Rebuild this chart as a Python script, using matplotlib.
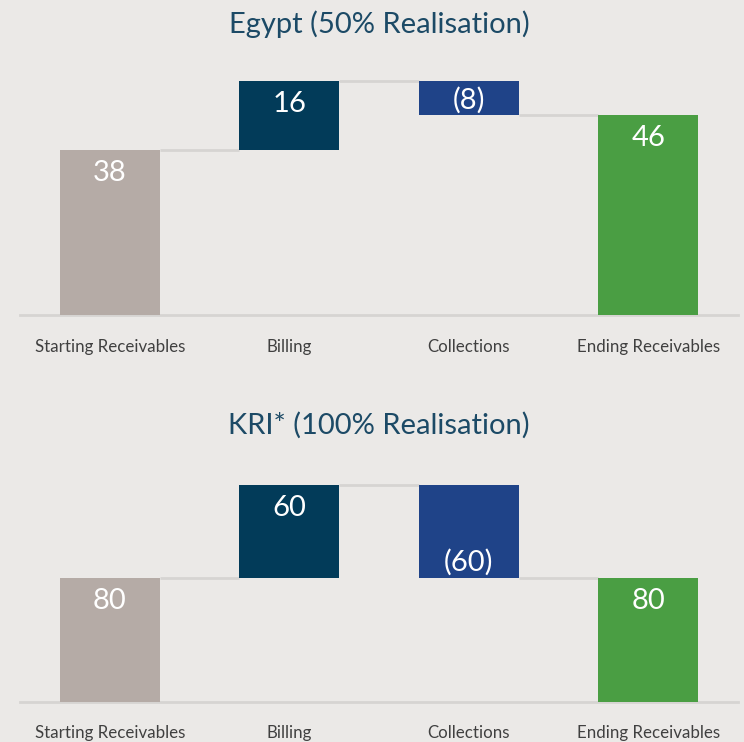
import matplotlib
matplotlib.use("Agg")
import matplotlib.pyplot as plt
import numpy as np

categories = ["Starting Receivables", "Billing", "Collections", "Ending Receivables"]
egypt_values = [38, 16, -8, 46]
kri_values = [80, 60, -60, 80]
titles = ["Egypt (50% Realisation)", "KRI* (100% Realisation)"]

BG = "#ebe9e7"
BAR_COLORS = ["#b5aba6", "#023b59", "#1f4388", "#4a9e43"]
GRID = "#d6d4d2"
TITLE_COLOR = "#1c4a66"
LABEL_COLOR = "#404040"

plt.rcParams["font.family"] = ["Lato", "DejaVu Sans"]


def fmt(v):
    return f"({abs(v)})" if v < 0 else f"{v}"


def waterfall(ax, values, ymax):
    values = np.array(values)
    x = np.arange(len(values))
    # first and last are totals, middle ones float on the running total
    bottoms = np.zeros(len(values))
    heights = values.astype(float).copy()
    running = values[0]
    for i in range(1, len(values) - 1):
        if values[i] >= 0:
            bottoms[i] = running
        else:
            bottoms[i] = running + values[i]
            heights[i] = -values[i]
        running += values[i]
    width = 0.558
    ax.bar(x, heights, bottom=bottoms, width=width, color=BAR_COLORS, zorder=3)

    # connectors
    level = values[0]
    for i in range(len(values) - 1):
        ax.plot([x[i] + width / 2, x[i + 1] - width / 2], [level, level],
                color=GRID, lw=2, zorder=2, solid_capstyle="butt")
        if i + 1 < len(values) - 1:
            level += values[i + 1]

    for i, v in enumerate(values):
        if v >= 0:
            y, off = bottoms[i] + heights[i], -23
        else:
            y, off = bottoms[i], 15
        ax.annotate(fmt(v), (x[i], y), xytext=(0, off), textcoords="offset pixels",
                    ha="center", va="center", color="white", fontsize=21, zorder=4)

    ax.set_xlim(-0.5, 3.5)
    ax.set_ylim(0, ymax)
    ax.set_facecolor(BG)
    for s in ["top", "right", "left"]:
        ax.spines[s].set_visible(False)
    ax.spines["bottom"].set_color(GRID)
    ax.spines["bottom"].set_linewidth(2)
    ax.set_yticks([])
    ax.set_xticks(x)
    ax.set_xticklabels(categories, color=LABEL_COLOR, fontsize=12.2)
    ax.tick_params(axis="x", length=0, pad=17)


fig = plt.figure(figsize=(7.44, 7.42), dpi=100, facecolor=BG)
W, H = 744, 742

ax1 = fig.add_axes([20 / W, 1 - 315 / H, 718 / W, 240 / H])
waterfall(ax1, egypt_values, 240 / 4.342)
ax2 = fig.add_axes([20 / W, 1 - 701.7 / H, 718 / W, 221.7 / H])
waterfall(ax2, kri_values, 221.7 / 1.55)

fig.text(379 / W, 1 - 24 / H, titles[0], ha="center", va="center",
         color=TITLE_COLOR, fontsize=21)
fig.text(379 / W, 1 - 425 / H, titles[1], ha="center", va="center",
         color=TITLE_COLOR, fontsize=21)

fig.savefig("out.png", dpi=100, facecolor=BG)
